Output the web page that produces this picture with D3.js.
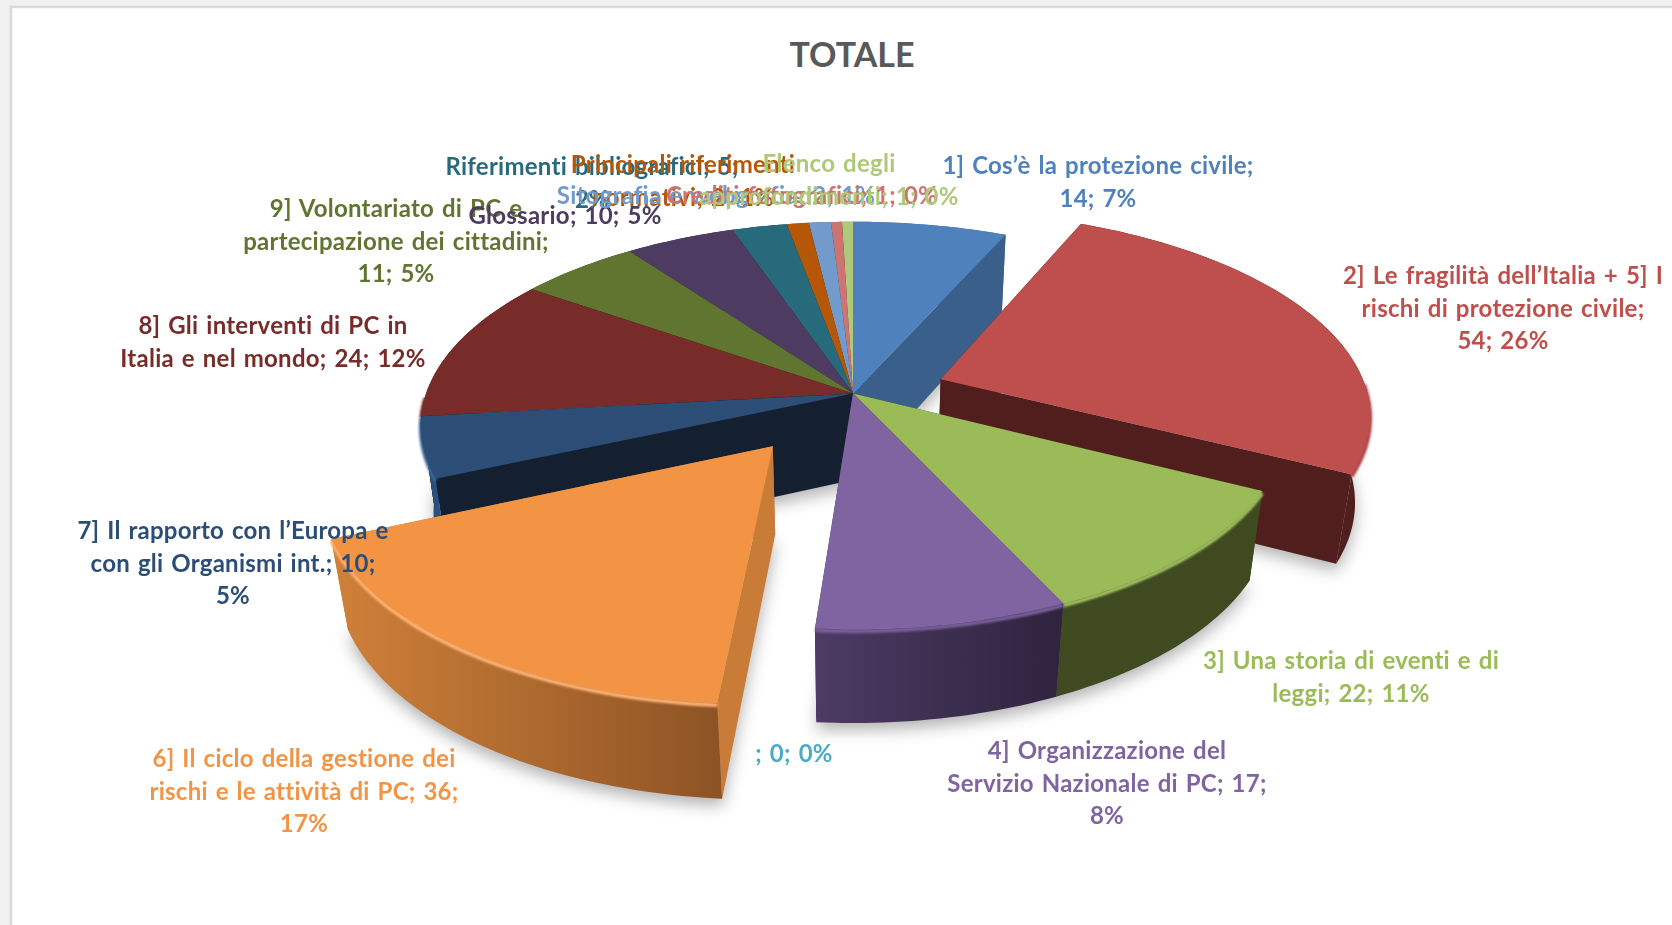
<!DOCTYPE html>
<html>
<head>
<meta charset="utf-8">
<script src="https://cdn.jsdelivr.net/npm/d3@7"></script>
<style>
  html, body { margin: 0; padding: 0; background: #f0f0f0; overflow: hidden; }
  svg { display: block; filter: blur(0.5px); }
</style>
</head>
<body>
<div id="chart"></div>
<script>
const categories = [
  "1] Cos’è la protezione civile", "2] Le fragilità dell’Italia + 5] I rischi di protezione civile",
  "3] Una storia di eventi e di leggi", "4] Organizzazione del Servizio Nazionale di PC", "",
  "6] Il ciclo della gestione dei rischi e le attività di PC", "7] Il rapporto con l’Europa e con gli Organismi int.",
  "8] Gli interventi di PC in Italia e nel mondo", "9] Volontariato di PC e partecipazione dei cittadini",
  "Glossario", "Riferimenti bibliografici", "Principali riferimenti normativi",
  "Sitografia e webgrafia", "Crediti fotografici", "Elenco degli approfondimenti"
];
const values = [14, 54, 22, 17, 0, 36, 10, 24, 11, 10, 5, 2, 2, 1, 1];
const percents = [7, 26, 11, 8, 0, 17, 5, 12, 5, 5, 2, 1, 1, 0, 0];

const colors = ["#4F81BD", "#BE4F4C", "#9BBB59", "#8064A2", "#4BACC6", "#F39445", "#2C4D75", "#772C2A",
  "#5F7530", "#4D3B62", "#276A7C", "#B65708", "#729ACA", "#CD7371", "#AFC97A"];

// how the label text wraps, slice by slice
const labelLines = [
  ["1] Cos’è la protezione civile;", "14; 7%"],
  ["2] Le fragilità dell’Italia + 5] I", "rischi di protezione civile;", "54; 26%"],
  ["3] Una storia di eventi e di", "leggi; 22; 11%"],
  ["4] Organizzazione del", "Servizio Nazionale di PC; 17;", "8%"],
  ["; 0; 0%"],
  ["6] Il ciclo della gestione dei", "rischi e le attività di PC; 36;", "17%"],
  ["7] Il rapporto con l’Europa e", "con gli Organismi int.; 10;", "5%"],
  ["8] Gli interventi di PC in", "Italia e nel mondo; 24; 12%"],
  ["9] Volontariato di PC e", "partecipazione dei cittadini;", "11; 5%"],
  ["Glossario; 10; 5%"],
  ["Riferimenti bibliografici; 5;", "2%"],
  ["Principali riferimenti", "normativi; 2; 1%"],
  ["Sitografia e webgrafia; 2; 1%"],
  ["Crediti fotografici; 1; 0%"],
  ["Elenco degli", "approfondimenti; 1; 0%"]
];

// where excel left each label (centre x, first line y)
const labelPos = [[1098, 166], [1503, 276], [1351, 661], [1107, 751], [794, 754], [304, 759], [233, 531],
  [273, 326], [396, 209], [565, 216], [592, 167], [683, 165], [716, 196], [802, 196], [829, 164]];

const width = 1672;
const height = 925;

// the 3d look: a flat disc seen through a simple perspective
const cx = 853, cy = 393.5;
const rx = 427, ry = 198.7, depth = 89;
const persp = 0.157, perspDepth = 0.03;

// pulled out slices, as a fraction of the radius
const explode = [0, 0.22, 0, 0, 0, 0.312, 0, 0, 0, 0, 0, 0, 0, 0, 0];

// back to front
const drawOrder = [14, 13, 12, 11, 10, 9, 8, 7, 6, 0, 1, 2, 3, 4, 5];

const faceColor = ["#3a5f8a", "#4f1e1d", "#3f4a20", "#3a2c4c", "#2f6f80", "#c97b38", "#14202f", "#4a1b1a",
  "#3b491e", "#30253d", "#184250", "#713605", "#47607e", "#804846", "#6d7d4c"];
const wallColor = ["url(#wall0)", "#4f1e1d", "#3f4a20", "url(#wall3)", "#2f6f80", "url(#wall5)", "#2a5080", "#5c2220",
  "#3b491e", "#30253d", "#184250", "#713605", "#47607e", "#804846", "#6d7d4c"];
const rimColor = ["#4F81BD", "#a8413f", "#a3c25f", "#7a5f9c", "#4BACC6", "#ffb273", "#3a6496", "#772C2A",
  "#5F7530", "#4D3B62", "#276A7C", "#B65708", "#729ACA", "#CD7371", "#AFC97A"];

const svg = d3.select("#chart")
  .append("svg")
  .attr("width", width)
  .attr("height", height);

const defs = svg.append("defs");
defs.append("filter").attr("id", "shadow")
  .attr("x", "-20%").attr("y", "-20%").attr("width", "140%").attr("height", "140%")
  .append("feGaussianBlur").attr("stdDeviation", 8);
defs.append("filter").attr("id", "soft")
  .attr("filterUnits", "userSpaceOnUse")
  .attr("x", 0).attr("y", 0).attr("width", width).attr("height", height)
  .append("feGaussianBlur").attr("stdDeviation", 1.3);

function wallGradient(id, left, right) {
  const g = defs.append("linearGradient").attr("id", id);
  g.append("stop").attr("offset", "0%").attr("stop-color", left);
  g.append("stop").attr("offset", "100%").attr("stop-color", right);
}
wallGradient("wall3", "#4d3b64", "#2f233e");
wallGradient("wall5", "#d08139", "#8d5325");
wallGradient("wall0", "#3a5f8a", "#3a5f8a");

// paper and the sheet with its thin grey edge
svg.append("rect")
  .attr("x", 11).attr("y", 7)
  .attr("width", width).attr("height", height)
  .attr("fill", "#fff")
  .attr("stroke", "#d9d9d9")
  .attr("stroke-width", 2.5);

svg.append("text")
  .attr("x", 852).attr("y", 55).attr("dy", "0.35em")
  .attr("text-anchor", "middle")
  .style("font", "bold 34px Lato")
  .style("fill", "#595959")
  .text("TOTALE");

const arcs = d3.pie().sort(null).value(d => d)(values);

// theta on the disc, r from the slice apex, z 0 = top face, 1 = bottom
function project(d, theta, r, z) {
  const mid = (d.startAngle + d.endAngle) / 2;
  const e = explode[d.index];
  const sx = r * Math.sin(theta) + e * Math.sin(mid);
  const cs = r * Math.cos(theta) + e * Math.cos(mid);
  const w = 1 + persp * cs + perspDepth * z;
  return [cx + rx * sx / w, cy + (-ry * cs + depth * z) / w];
}

function rimAngles(d) {
  const n = Math.max(2, Math.ceil((d.endAngle - d.startAngle) / 0.02));
  return d3.range(n + 1).map(i => d.startAngle + (d.endAngle - d.startAngle) * i / n);
}

function rimPoints(d, z) {
  return rimAngles(d).map(t => project(d, t, 1, z));
}

const line = d3.line();
const closed = pts => line(pts) + "Z";

function sideFace(d, theta) {
  return closed([project(d, theta, 0, 0), project(d, theta, 1, 0), project(d, theta, 1, 1), project(d, theta, 0, 1)]);
}

const visible = arcs.filter(d => d.value > 0);

// soft shadow under the whole pie
svg.append("g")
  .attr("filter", "url(#shadow)")
  .selectAll("path")
  .data(visible)
  .join("path")
    .attr("d", d => closed([project(d, 0, 0, 1), ...rimPoints(d, 1)]))
    .attr("transform", "translate(0,7)")
    .attr("fill", "#000")
    .attr("opacity", 0.3);

const slices = svg.selectAll(".slice")
  .data(drawOrder.map(i => arcs[i]).filter(d => d.value > 0))
  .join("g")
    .classed("slice", true);

slices.append("path")
  .attr("d", d => sideFace(d, d.startAngle))
  .attr("fill", d => faceColor[d.index]);

slices.append("path")
  .attr("d", d => sideFace(d, d.endAngle))
  .attr("fill", d => faceColor[d.index]);

slices.append("path")
  .attr("d", d => closed([...rimPoints(d, 0), ...rimPoints(d, 1).reverse()]))
  .attr("fill", d => wallColor[d.index]);

// bright soft edge, only on the part of the rim that faces us
slices.append("path")
  .attr("d", d => line(rimAngles(d).filter(t => Math.cos(t) < 0).map(t => project(d, t, 1, 0.02))))
  .attr("fill", "none")
  .attr("stroke", d => rimColor[d.index])
  .attr("stroke-width", 4)
  .attr("filter", "url(#soft)");

slices.append("path")
  .attr("d", d => closed([project(d, 0, 0, 0), ...rimPoints(d, 0)]))
  .attr("fill", d => colors[d.index]);

// labels last, in series order, they overlap like in the original
const labels = svg.selectAll(".label")
  .data(labelLines)
  .join("text")
    .classed("label", true)
    .attr("text-anchor", "middle")
    .style("font", "bold 24px Lato")
    .style("letter-spacing", "0.25px")
    .style("word-spacing", "1.8px")
    .style("fill", (d, i) => colors[i]);

labels.selectAll("tspan")
  .data((d, i) => d.map((t, j) => ({ t, x: labelPos[i][0], y: labelPos[i][1] + j * 32.5 })))
  .join("tspan")
    .attr("x", d => d.x)
    .attr("y", d => d.y)
    .attr("dy", "0.35em")
    .text(d => d.t);
</script>
</body>
</html>
